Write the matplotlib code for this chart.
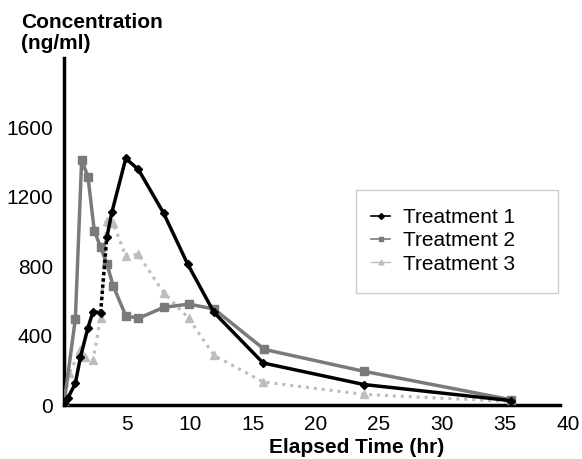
import matplotlib
matplotlib.use("Agg")
import matplotlib.pyplot as plt
from matplotlib.lines import Line2D
from matplotlib.patches import Rectangle

plt.rcParams['font.family'] = ['Liberation Sans', 'DejaVu Sans']

# elapsed time (hr) and concentration (ng/ml) per treatment
t1_time = [0, 0.3, 0.9, 1.3, 1.9, 2.3, 2.9, 3.4, 3.8, 4.9, 5.9, 7.9, 9.8, 11.9, 15.8, 23.8, 35.5]
t1_conc = [10, 40, 125, 275, 445, 537, 531, 966, 1110, 1419, 1356, 1105, 813, 533, 242, 118, 25]

t2_time = [0, 0.9, 1.4, 1.9, 2.4, 2.9, 3.4, 3.9, 4.9, 5.9, 7.9, 9.9, 11.9, 15.9, 23.8, 35.5]
t2_conc = [10, 495, 1410, 1314, 1004, 909, 813, 686, 514, 499, 562, 581, 553, 320, 194, 30]

t3_time = [0, 0.4, 1.3, 1.7, 2.3, 2.9, 3.4, 3.9, 4.9, 5.9, 7.9, 9.9, 11.9, 15.8, 23.8, 35.5]
t3_conc = [10, 183, 314, 275, 257, 501, 1057, 1047, 857, 867, 647, 499, 286, 133, 61, 20]

labels = ["Treatment 1", "Treatment 2", "Treatment 3"]

# index in treatment 1 where the line is drawn dotted (gap in sampling)
gap = 6

x_ticks = [5, 10, 15, 20, 25, 30, 35, 40]
y_ticks = [0, 400, 800, 1200, 1600]

c1 = "#000000"
c2 = "#7a7a7a"
c3 = "#bdbdbd"

fig = plt.figure(figsize=(5.82, 4.59), dpi=100)
ax = fig.add_axes([0.110, 0.1176, 0.866, 0.757])

ax.plot(t3_time, t3_conc, color=c3, linestyle=(0, (1, 1.6)), linewidth=2.2,
        marker='^', markersize=6, zorder=2)
ax.plot(t2_time, t2_conc, color=c2, linewidth=2.5,
        marker='s', markersize=5.5, zorder=3)
ax.plot(t1_time[:gap + 1], t1_conc[:gap + 1], color=c1, linewidth=2.5,
        marker='D', markersize=4, zorder=4)
ax.plot(t1_time[gap:gap + 2], t1_conc[gap:gap + 2], color=c1, linewidth=2.5,
        linestyle=(0, (1, 0.8)), zorder=4)
ax.plot(t1_time[gap + 1:], t1_conc[gap + 1:], color=c1, linewidth=2.5,
        marker='D', markersize=4, zorder=4)

ax.set_xlim(0, 40)
ax.set_ylim(0, 2000)
ax.set_xticks(x_ticks)
ax.set_yticks(y_ticks)
ax.tick_params(length=0, labelsize=15)
ax.tick_params(axis='y', pad=8)
ax.tick_params(axis='x', pad=7)
ax.spines['top'].set_visible(False)
ax.spines['right'].set_visible(False)
ax.spines['left'].set_linewidth(2.5)
ax.spines['bottom'].set_linewidth(2.5)
ax.spines['bottom'].set_bounds(0, 39.4)

fig.text(0.613, 0.004, "Elapsed Time (hr)", fontsize=15, fontweight='bold',
         ha='center', va='bottom')
fig.text(0.036, 0.972, "Concentration\n(ng/ml)", fontsize=15, fontweight='bold',
         ha='left', va='top', linespacing=1.15)

# legend box
fig.patches.append(Rectangle((0.612, 0.362), 0.347, 0.224, transform=fig.transFigure,
                             fill=False, edgecolor="#cccccc", linewidth=1.0))

handles = [
    Line2D([], [], color=c1, linewidth=1.2, marker='D', markersize=3),
    Line2D([], [], color=c2, linewidth=1.2, marker='s', markersize=3.5),
    Line2D([], [], color=c3, linewidth=1.0, marker='^', markersize=3.5),
]
ax.legend(handles, labels, loc='center left', bbox_to_anchor=(0.638, 0.475),
          bbox_transform=fig.transFigure, fontsize=15, frameon=False,
          handlelength=0.9, borderpad=0, borderaxespad=0,
          labelspacing=0.2, handletextpad=0.6)

fig.savefig("out.png", dpi=100)
